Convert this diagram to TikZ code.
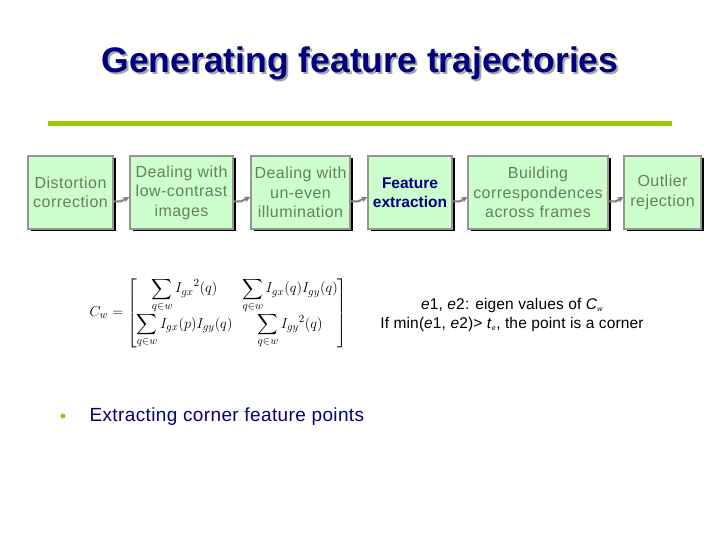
\documentclass[tikz,border=0pt]{standalone}
\usepackage{amsmath}
\usepackage{fontspec}
\setmainfont{Liberation Sans}
\usetikzlibrary{shadows,arrows.meta}
\definecolor{navy}{RGB}{0,0,128}
\definecolor{boxfill}{RGB}{204,255,204}
\definecolor{boxtext}{RGB}{100,128,100}
\definecolor{boxline}{RGB}{150,150,150}
\definecolor{lime}{RGB}{153,204,0}
\definecolor{arrgray}{RGB}{128,128,128}
\tikzset{
  stepbox/.style={draw=boxline, line width=1.4pt, fill=boxfill, inner sep=1pt,
    minimum height=73pt, align=center, text=boxtext,
    font=\fontsize{16}{19.5}\selectfont\addfontfeature{LetterSpace=3},
    drop shadow={shadow xshift=2.5pt, shadow yshift=-2.5pt, fill=black, opacity=1}},
  arr/.style={draw=arrgray, line width=2pt, -{Stealth[length=6pt,width=6pt]}},
  titlefont/.style={font=\fontsize{35.5}{38}\selectfont\bfseries},
}
\begin{document}
\begin{tikzpicture}[x=1pt,y=-1pt]
\useasboundingbox[fill=white] (0,0) rectangle (720,540);
% title
\node[text=gray!70, titlefont] (tshadow) at (362,65) {Generating feature trajectories};
\node[text=navy, titlefont] (title) at (360,63) {Generating feature trajectories};
% green rule
\fill[lime] (48,121) rectangle (672,126);
% boxes
\node[stepbox, minimum width=85pt] (b1) at (70.5,192.5) {Distortion\\correction};
\node[stepbox, minimum width=103pt] (b2) at (181.5,192.5) {Dealing with\\low-contrast\\images};
\node[stepbox, minimum width=99pt] (b3) at (300.5,192.5) {Dealing with\\un-even\\illumination};
\node[stepbox, minimum width=84pt, text=navy, font=\fontsize{15.5}{19.5}\selectfont\bfseries] (b4) at (410,192.5) {Feature\\extraction};
\node[stepbox, minimum width=140pt] (b5) at (538,192.5) {Building\\correspondences\\across frames};
\node[stepbox, minimum width=77pt] (b6) at (662.5,192.5) {Outlier\\rejection};
% arrows
\foreach \a/\b in {b1/b2,b2/b3,b3/b4,b4/b5,b5/b6}{
  \draw[arr] ([yshift=-9pt]\a.east) -- ++(7,0) -- ([yshift=-4.5pt]\b.west);
}
% formula
\node[font=\fontsize{15}{18}\selectfont, anchor=west] (cw) at (86,313) {$C_w = \begin{bmatrix} \displaystyle\sum_{q\in w} I_{gx}{}^{2}(q) & \displaystyle\sum_{q\in w} I_{gx}(q)I_{gy}(q) \\[1pt] \displaystyle\sum_{q\in w} I_{gx}(p)I_{gy}(q) & \displaystyle\sum_{q\in w} I_{gy}{}^{2}(q)\end{bmatrix}$};
% eigen text
\node[font=\fontsize{15.5}{19.5}\selectfont\addfontfeature{LetterSpace=1}, align=center] (eig) at (512,315) {\textit{e}1, \textit{e}2: eigen values of \textit{C}$_{\textit{\scriptsize w}}$\\If min(\textit{e}1, \textit{e}2)> \textit{t}$_{\textit{\scriptsize e}}$, the point is a corner};
% bullet
\fill[lime] (63,416) circle (2.6pt);
\node[text=navy, anchor=west, font=\fontsize{19}{22}\selectfont\addfontfeature{LetterSpace=2}] (bul) at (86,417) {Extracting corner feature points};
\end{tikzpicture}
\end{document}
